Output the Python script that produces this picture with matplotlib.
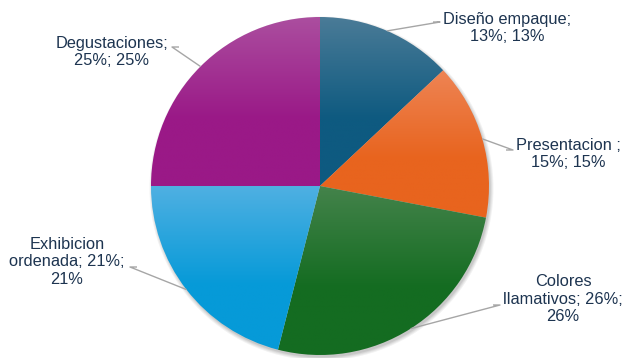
import numpy as np
import matplotlib.pyplot as plt
from matplotlib.patches import Circle
from matplotlib.colors import to_rgb

# Data
categories = ["Diseño empaque", "Presentacion ", "Colores llamativos",
              "Exhibicion ordenada", "Degustaciones"]
values = [13, 15, 26, 21, 25]

# Label text, wrapped the way the chart shows it
label_fmt = ["{name};\n{v}%; {v}%",
             "{name};\n{v}%; {v}%",
             "Colores\nllamativos; {v}%;\n{v}%",
             "Exhibicion\nordenada; {v}%;\n{v}%",
             "{name};\n{v}%; {v}%"]

# Gradient colours (top, bottom) for each slice
top_colors = ["#4A7B97", "#EE8454", "#44834B", "#4FB0E2", "#AB4E9F"]
bottom_colors = ["#0E5A80", "#E8641E", "#146C21", "#069AD8", "#9A1987"]

# Label positions and leader-line elbows (pixel space, y downward)
label_xy = [(507, 28), (568, 154), (563, 299), (67, 262), (112, 52)]
elbow_xy = [(440, 22), (513, 150), (500, 305), (130, 267), (172, 47)]

W, H = 625, 358
cx, cy, R = 320, 172, 169

plt.rcParams['font.family'] = ['Liberation Sans', 'DejaVu Sans']
fig = plt.figure(figsize=(6.25, 3.58), dpi=100)
ax = fig.add_axes([0, 0, 1, 1])

# soft drop shadow
for i, a in enumerate([0.05, 0.05, 0.06, 0.07]):
    ax.add_patch(Circle((cx + 1.5, cy - 2.5), R + 3 - i, color='black',
                        alpha=a, lw=0, zorder=0))

wedges, _ = ax.pie(values, center=(cx, cy), radius=R, startangle=90,
                   counterclock=False, frame=True,
                   wedgeprops=dict(linewidth=0))

for w, c0, c1 in zip(wedges, top_colors, bottom_colors):
    path = w.get_patch_transform().transform_path(w.get_path())
    bb = path.get_extents()
    n = 200
    t = np.clip(np.linspace(0, 1, n) / 0.6, 0, 1)[:, None]
    grad = (1 - t) * np.array(to_rgb(c0)) + t * np.array(to_rgb(c1))
    img = ax.imshow(grad[:, None, :], extent=[bb.x0, bb.x1, bb.y0, bb.y1],
                    origin='upper', aspect='auto', zorder=2,
                    interpolation='bilinear')
    img.set_clip_path(w)
    w.set_facecolor('none')
    w.set_zorder(3)

ax.set_xlim(0, W)
ax.set_ylim(0, H)
ax.set_aspect('equal')
ax.set_xticks([])
ax.set_yticks([])
for s in ax.spines.values():
    s.set_visible(False)

# Labels with leader lines from each slice's midpoint
start = 90.0
total = float(sum(values))
for name, v, fmt, (lx, ly), (ex, ey) in zip(categories, values, label_fmt,
                                             label_xy, elbow_xy):
    mid = np.deg2rad(start - v / total * 180.0)
    start -= v / total * 360.0
    px, py = cx + R * np.cos(mid), cy + R * np.sin(mid)
    hx = ex + (7 if ex < cx else -7)
    ax.plot([px, ex, hx], [py, H - ey, H - ey], color='#A6A6A6', lw=1,
            zorder=4, solid_capstyle='butt')
    ax.text(lx, H - ly, fmt.format(name=name, v=v),
            ha='center', va='center', multialignment='center',
            fontsize=11.8, color='#1D3450', linespacing=1.2, zorder=5)

fig.savefig('out.png', dpi=100)
